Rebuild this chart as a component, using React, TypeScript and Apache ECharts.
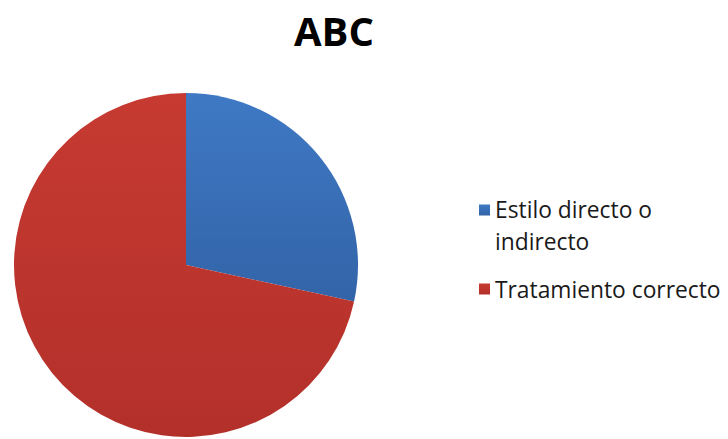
import React, { useEffect, useRef } from "react";
import * as echarts from "echarts";

const titleText = "ABC";
const categories = ["Estilo directo o indirecto", "Tratamiento correcto"];
const values = [28.4, 71.6];
const colorsTop = ["#3f79c4", "#c63a31"];
const colorsBottom = ["#3264a8", "#b3302a"];

export default function App() {
  const ref = useRef<HTMLDivElement>(null);
  useEffect(() => {
    if (!ref.current) return;
    const chart = echarts.init(ref.current, null, { renderer: "svg" });
    const font = { fontFamily: "Open Sans", fontSize: 22.8, color: "#1a1a1a" };
    chart.setOption({
      animation: false,
      backgroundColor: "#ffffff",
      title: {
        text: titleText,
        left: 329,
        top: 5,
        textAlign: "center",
        textStyle: { fontFamily: "Open Sans", fontWeight: "bold", fontSize: 40, color: "#000" },
      },
      legend: {
        orient: "vertical",
        left: 474,
        top: 193,
        itemWidth: 11,
        itemHeight: 11,
        itemGap: 25,
        icon: "rect",
        textStyle: {
          ...font,
          rich: {
            a: { ...font, lineHeight: 62 },
            b: { ...font, lineHeight: 1 },
            c: { ...font, lineHeight: 30 },
          },
        },
        formatter: (n: string) =>
          n === categories[0] ? "{a|Estilo directo o}\n{b|indirecto}" : "{c|" + n + "}",
        data: categories,
      },
      series: [
        {
          type: "pie",
          center: [186, 265],
          radius: 172,
          startAngle: 90,
          clockwise: true,
          label: { show: false },
          labelLine: { show: false },
          emphasis: { disabled: true },
          data: categories.map((c, i) => ({
            name: c,
            value: values[i],
            itemStyle: {
              color: new echarts.graphic.LinearGradient(0, 0, 0, 1, [
                { offset: 0, color: colorsTop[i] },
                { offset: 1, color: colorsBottom[i] },
              ]),
            },
          })),
        },
      ],
    });
    return () => chart.dispose();
  }, []);
  return <div ref={ref} style={{ position: "fixed", left: 0, top: 0, width: 728, height: 439 }} />;
}
